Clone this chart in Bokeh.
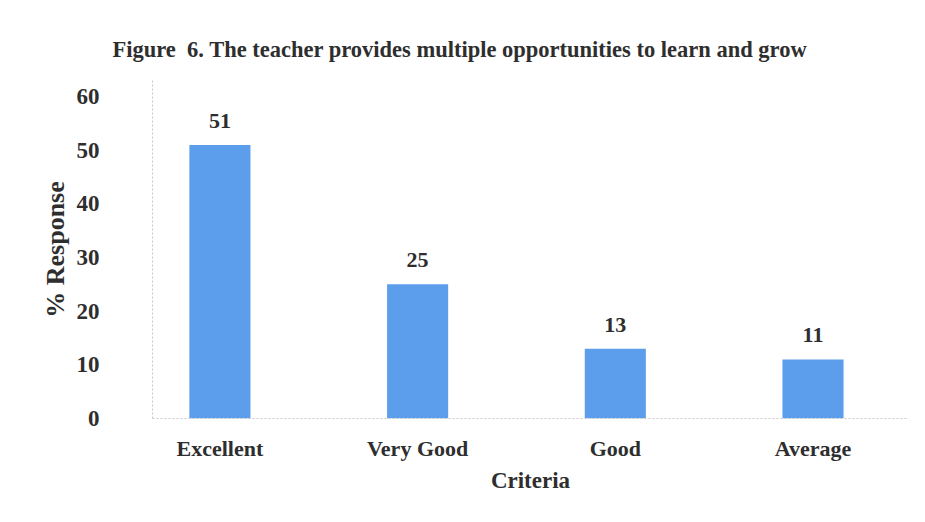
from bokeh.plotting import figure
from bokeh.models import ColumnDataSource, LabelSet, Range1d, FixedTicker, Title
from bokeh.embed import file_html
from bokeh.resources import INLINE

categories = ["Excellent", "Very Good", "Good", "Average"]
responses = [51, 25, 13, 11]
y_ticks = [0, 10, 20, 30, 40, 50, 60]
title_text = "Figure\u00a0 6. The teacher provides multiple opportunities to learn and grow"

FONT = "Liberation Serif"
TXT = "#2E2E2E"
BAR = "#5C9EEC"

xs = list(range(len(categories)))
src = ColumnDataSource(dict(x=xs, y=responses, lab=[str(v) for v in responses]))

p = figure(width=917, height=514, output_backend="svg", toolbar_location=None,
           x_range=Range1d(-0.341, 3.483), y_range=Range1d(0, 63),
           min_border_left=152, min_border_right=9, min_border_top=80, min_border_bottom=96)
p.outline_line_color = None
p.xgrid.grid_line_color = None
p.ygrid.grid_line_color = None
p.background_fill_color = "white"
p.border_fill_color = "white"

p.vbar(x="x", top="y", width=0.309, bottom=0, source=src, fill_color=BAR, line_color=None)

labels = LabelSet(x="x", y="y", text="lab", source=src, text_align="center",
                  text_baseline="bottom", y_offset=17, text_font=FONT,
                  text_font_style="bold", text_font_size="22px", text_color=TXT)
p.add_layout(labels)

# axes
p.xaxis.ticker = FixedTicker(ticks=xs)
p.xaxis.major_label_overrides = {i: c for i, c in enumerate(categories)}
p.yaxis.ticker = FixedTicker(ticks=y_ticks)
for ax in (p.xaxis[0], p.yaxis[0]):
    ax.axis_line_color = "#c8c8c8"
    ax.axis_line_dash = "2 2"
    ax.axis_line_width = 1
    ax.major_tick_line_color = None
    ax.minor_tick_line_color = None
    ax.major_label_text_font = FONT
    ax.major_label_text_font_style = "bold"
    ax.major_label_text_color = TXT
    ax.axis_label_text_font = FONT
    ax.axis_label_text_font_style = "bold"
    ax.axis_label_text_color = TXT

p.xaxis.major_label_text_font_size = "22px"
p.yaxis.major_label_text_font_size = "23px"
p.xaxis.major_label_standoff = 11
p.yaxis.major_label_standoff = 47
p.xaxis.axis_label = "Criteria"
p.yaxis.axis_label = "% Response"
p.xaxis.axis_label_text_font_size = "23px"
p.yaxis.axis_label_text_font_size = "26px"
p.xaxis.axis_label_standoff = 4
p.yaxis.axis_label_standoff = 4

title = Title(text=title_text, align="left", offset=-40, standoff=37,
              text_font=FONT, text_font_style="bold", text_font_size="22.5px", text_color=TXT)
p.add_layout(title, "above")

open("out.html", "w").write(file_html(p, INLINE))
